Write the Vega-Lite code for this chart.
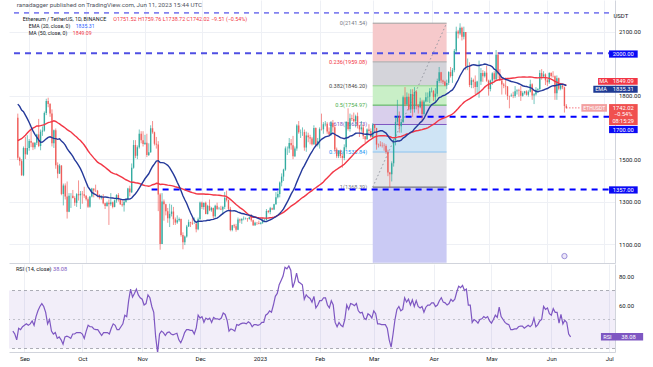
{
"$schema":"https://vega.github.io/schema/vega-lite/v6.json",
"padding":{"left":8,"top":0,"right":0,"bottom":0},
"background":"#ffffff",
"config":{"view":{"stroke":null},"font":"Roboto"},
"datasets":{"px":[
{"d":"2022-07-07","c":1237},{"d":"2022-07-08","c":1216},{"d":"2022-07-09","c":1217},{"d":"2022-07-10","c":1168},{"d":"2022-07-11","c":1097},{"d":"2022-07-12","c":1039},{"d":"2022-07-13","c":1113},{"d":"2022-07-14","c":1192},{"d":"2022-07-15","c":1233},{"d":"2022-07-16","c":1355},{"d":"2022-07-17","c":1339},{"d":"2022-07-18","c":1580},{"d":"2022-07-19","c":1543},{"d":"2022-07-20","c":1523},{"d":"2022-07-21","c":1577},{"d":"2022-07-22","c":1536},{"d":"2022-07-23","c":1552},{"d":"2022-07-24","c":1599},{"d":"2022-07-25","c":1439},{"d":"2022-07-26","c":1450},{"d":"2022-07-27","c":1636},{"d":"2022-07-28","c":1724},{"d":"2022-07-29","c":1739},{"d":"2022-07-30","c":1696},{"d":"2022-07-31","c":1678},{"d":"2022-08-01","c":1633},{"d":"2022-08-02","c":1634},{"d":"2022-08-03","c":1617},{"d":"2022-08-04","c":1608},{"d":"2022-08-05","c":1733},{"d":"2022-08-06","c":1695},{"d":"2022-08-07","c":1704},{"d":"2022-08-08","c":1776},{"d":"2022-08-09","c":1700},{"d":"2022-08-10","c":1852},{"d":"2022-08-11","c":1880},{"d":"2022-08-12","c":1956},{"d":"2022-08-13","c":1983},{"d":"2022-08-14","c":1935},{"d":"2022-08-15","c":1904},{"d":"2022-08-16","c":1877},{"d":"2022-08-17","c":1835},{"d":"2022-08-18","c":1846},{"d":"2022-08-19","c":1615},{"d":"2022-08-20","c":1574},{"d":"2022-08-21","c":1619},{"d":"2022-08-22","c":1625},{"d":"2022-08-23","c":1662},{"d":"2022-08-24","c":1654},{"d":"2022-08-25","c":1696},
{"d":"2022-08-26","o":1696,"h":1715,"l":1496,"c":1507,"r":42},
{"d":"2022-08-27","o":1507,"h":1512,"l":1470,"c":1491,"r":40},
{"d":"2022-08-28","o":1491,"h":1500,"l":1422,"c":1424,"r":36},
{"d":"2022-08-29","o":1424,"h":1560,"l":1420,"c":1553,"r":44},
{"d":"2022-08-30","o":1553,"h":1605,"l":1501,"c":1523,"r":43},
{"d":"2022-08-31","o":1523,"h":1613,"l":1520,"c":1553,"r":45},
{"d":"2022-09-01","o":1553,"h":1595,"l":1540,"c":1586,"r":46},
{"d":"2022-09-02","o":1586,"h":1645,"l":1557,"c":1577,"r":47},
{"d":"2022-09-03","o":1577,"h":1580,"l":1543,"c":1556,"r":46},
{"d":"2022-09-04","o":1556,"h":1580,"l":1547,"c":1577,"r":47},
{"d":"2022-09-05","o":1577,"h":1620,"l":1567,"c":1617,"r":49},
{"d":"2022-09-06","o":1617,"h":1690,"l":1557,"c":1562,"r":46},
{"d":"2022-09-07","o":1562,"h":1640,"l":1542,"c":1630,"r":52},
{"d":"2022-09-08","o":1630,"h":1655,"l":1610,"c":1635,"r":56},
{"d":"2022-09-09","o":1635,"h":1725,"l":1630,"c":1718,"r":59},
{"d":"2022-09-10","o":1718,"h":1785,"l":1708,"c":1775,"r":61},
{"d":"2022-09-11","o":1775,"h":1790,"l":1745,"c":1760,"r":59},
{"d":"2022-09-12","o":1760,"h":1765,"l":1700,"c":1715,"r":55},
{"d":"2022-09-13","o":1715,"h":1735,"l":1560,"c":1575,"r":47},
{"d":"2022-09-14","o":1575,"h":1640,"l":1553,"c":1636,"r":50},
{"d":"2022-09-15","o":1636,"h":1645,"l":1455,"c":1472,"r":42},
{"d":"2022-09-16","o":1472,"h":1485,"l":1410,"c":1432,"r":40},
{"d":"2022-09-17","o":1432,"h":1478,"l":1430,"c":1470,"r":41},
{"d":"2022-09-18","o":1470,"h":1472,"l":1330,"c":1336,"r":37},
{"d":"2022-09-19","o":1336,"h":1385,"l":1282,"c":1376,"r":38},
{"d":"2022-09-20","o":1376,"h":1386,"l":1310,"c":1324,"r":36},
{"d":"2022-09-21","o":1324,"h":1395,"l":1220,"c":1252,"r":33},
{"d":"2022-09-22","o":1252,"h":1340,"l":1250,"c":1328,"r":38},
{"d":"2022-09-23","o":1328,"h":1340,"l":1270,"c":1328,"r":38.5},
{"d":"2022-09-24","o":1328,"h":1355,"l":1315,"c":1317,"r":38},
{"d":"2022-09-25","o":1317,"h":1325,"l":1280,"c":1294,"r":37},
{"d":"2022-09-26","o":1294,"h":1340,"l":1275,"c":1335,"r":40},
{"d":"2022-09-27","o":1335,"h":1400,"l":1305,"c":1330,"r":40},
{"d":"2022-09-28","o":1330,"h":1350,"l":1265,"c":1337,"r":41},
{"d":"2022-09-29","o":1337,"h":1350,"l":1290,"c":1335,"r":41},
{"d":"2022-09-30","o":1335,"h":1370,"l":1318,"c":1328,"r":41},
{"d":"2022-10-01","o":1328,"h":1330,"l":1305,"c":1311,"r":40},
{"d":"2022-10-02","o":1311,"h":1320,"l":1270,"c":1276,"r":37},
{"d":"2022-10-03","o":1276,"h":1327,"l":1271,"c":1324,"r":42},
{"d":"2022-10-04","o":1324,"h":1365,"l":1320,"c":1362,"r":46},
{"d":"2022-10-05","o":1362,"h":1362,"l":1320,"c":1352,"r":45},
{"d":"2022-10-06","o":1352,"h":1380,"l":1345,"c":1351,"r":45},
{"d":"2022-10-07","o":1351,"h":1355,"l":1320,"c":1331,"r":43.5},
{"d":"2022-10-08","o":1331,"h":1335,"l":1310,"c":1317,"r":43},
{"d":"2022-10-09","o":1317,"h":1330,"l":1310,"c":1321,"r":43},
{"d":"2022-10-10","o":1321,"h":1335,"l":1287,"c":1292,"r":41},
{"d":"2022-10-11","o":1292,"h":1295,"l":1265,"c":1279,"r":39},
{"d":"2022-10-12","o":1279,"h":1300,"l":1276,"c":1294,"r":41},
{"d":"2022-10-13","o":1294,"h":1310,"l":1190,"c":1287,"r":41},
{"d":"2022-10-14","o":1287,"h":1340,"l":1280,"c":1297,"r":41},
{"d":"2022-10-15","o":1297,"h":1300,"l":1268,"c":1275,"r":40},
{"d":"2022-10-16","o":1275,"h":1310,"l":1273,"c":1306,"r":44},
{"d":"2022-10-17","o":1306,"h":1335,"l":1295,"c":1331,"r":47},
{"d":"2022-10-18","o":1331,"h":1340,"l":1300,"c":1311,"r":46},
{"d":"2022-10-19","o":1311,"h":1312,"l":1284,"c":1287,"r":43},
{"d":"2022-10-20","o":1287,"h":1310,"l":1276,"c":1283,"r":43},
{"d":"2022-10-21","o":1283,"h":1305,"l":1253,"c":1299,"r":45},
{"d":"2022-10-22","o":1299,"h":1315,"l":1295,"c":1314,"r":47},
{"d":"2022-10-23","o":1314,"h":1365,"l":1305,"c":1362,"r":53},
{"d":"2022-10-24","o":1362,"h":1375,"l":1325,"c":1344,"r":52},
{"d":"2022-10-25","o":1344,"h":1480,"l":1340,"c":1460,"r":63},
{"d":"2022-10-26","o":1460,"h":1590,"l":1455,"c":1567,"r":71},
{"d":"2022-10-27","o":1567,"h":1590,"l":1505,"c":1516,"r":65.5},
{"d":"2022-10-28","o":1516,"h":1565,"l":1500,"c":1556,"r":68},
{"d":"2022-10-29","o":1556,"h":1640,"l":1550,"c":1620,"r":71},
{"d":"2022-10-30","o":1620,"h":1632,"l":1575,"c":1589,"r":67},
{"d":"2022-10-31","o":1589,"h":1632,"l":1560,"c":1572,"r":65},
{"d":"2022-11-01","o":1572,"h":1615,"l":1567,"c":1578,"r":64},
{"d":"2022-11-02","o":1578,"h":1620,"l":1510,"c":1520,"r":60},
{"d":"2022-11-03","o":1520,"h":1575,"l":1515,"c":1533,"r":61},
{"d":"2022-11-04","o":1533,"h":1660,"l":1530,"c":1646,"r":67},
{"d":"2022-11-05","o":1646,"h":1680,"l":1620,"c":1627,"r":65},
{"d":"2022-11-06","o":1627,"h":1630,"l":1565,"c":1573,"r":59},
{"d":"2022-11-07","o":1573,"h":1605,"l":1550,"c":1569,"r":55},
{"d":"2022-11-08","o":1569,"h":1585,"l":1255,"c":1334,"r":38},
{"d":"2022-11-09","o":1334,"h":1340,"l":1073,"c":1100,"r":27},
{"d":"2022-11-10","o":1100,"h":1340,"l":1100,"c":1301,"r":40},
{"d":"2022-11-11","o":1301,"h":1310,"l":1210,"c":1287,"r":42},
{"d":"2022-11-12","o":1287,"h":1290,"l":1235,"c":1255,"r":41},
{"d":"2022-11-13","o":1255,"h":1270,"l":1200,"c":1221,"r":39},
{"d":"2022-11-14","o":1221,"h":1290,"l":1180,"c":1242,"r":41},
{"d":"2022-11-15","o":1242,"h":1285,"l":1230,"c":1253,"r":41.5},
{"d":"2022-11-16","o":1253,"h":1275,"l":1190,"c":1217,"r":40},
{"d":"2022-11-17","o":1217,"h":1225,"l":1190,"c":1201,"r":39.5},
{"d":"2022-11-18","o":1201,"h":1235,"l":1195,"c":1212,"r":40},
{"d":"2022-11-19","o":1212,"h":1225,"l":1205,"c":1218,"r":40.5},
{"d":"2022-11-20","o":1218,"h":1220,"l":1135,"c":1142,"r":36},
{"d":"2022-11-21","o":1142,"h":1155,"l":1075,"c":1108,"r":34},
{"d":"2022-11-22","o":1108,"h":1140,"l":1095,"c":1135,"r":37},
{"d":"2022-11-23","o":1135,"h":1190,"l":1130,"c":1183,"r":41},
{"d":"2022-11-24","o":1183,"h":1215,"l":1180,"c":1203,"r":43},
{"d":"2022-11-25","o":1203,"h":1205,"l":1180,"c":1200,"r":43},
{"d":"2022-11-26","o":1200,"h":1225,"l":1190,"c":1196,"r":42.5},
{"d":"2022-11-27","o":1196,"h":1225,"l":1195,"c":1196,"r":42.5},
{"d":"2022-11-28","o":1196,"h":1200,"l":1155,"c":1170,"r":40},
{"d":"2022-11-29","o":1170,"h":1225,"l":1165,"c":1217,"r":44},
{"d":"2022-11-30","o":1217,"h":1300,"l":1215,"c":1296,"r":53},
{"d":"2022-12-01","o":1296,"h":1300,"l":1265,"c":1275,"r":51},
{"d":"2022-12-02","o":1275,"h":1295,"l":1262,"c":1294,"r":52},
{"d":"2022-12-03","o":1294,"h":1300,"l":1240,"c":1241,"r":48},
{"d":"2022-12-04","o":1241,"h":1285,"l":1240,"c":1280,"r":51},
{"d":"2022-12-05","o":1280,"h":1310,"l":1255,"c":1259,"r":50},
{"d":"2022-12-06","o":1259,"h":1275,"l":1252,"c":1270,"r":51},
{"d":"2022-12-07","o":1270,"h":1272,"l":1220,"c":1231,"r":48},
{"d":"2022-12-08","o":1231,"h":1285,"l":1225,"c":1281,"r":51.5},
{"d":"2022-12-09","o":1281,"h":1295,"l":1260,"c":1265,"r":50.5},
{"d":"2022-12-10","o":1265,"h":1275,"l":1262,"c":1266,"r":50.5},
{"d":"2022-12-11","o":1266,"h":1280,"l":1260,"c":1263,"r":50},
{"d":"2022-12-12","o":1263,"h":1280,"l":1240,"c":1275,"r":51},
{"d":"2022-12-13","o":1275,"h":1345,"l":1265,"c":1318,"r":54.5},
{"d":"2022-12-14","o":1318,"h":1352,"l":1300,"c":1307,"r":53.5},
{"d":"2022-12-15","o":1307,"h":1310,"l":1260,"c":1266,"r":49.5},
{"d":"2022-12-16","o":1266,"h":1275,"l":1160,"c":1166,"r":42},
{"d":"2022-12-17","o":1166,"h":1190,"l":1160,"c":1188,"r":43.5},
{"d":"2022-12-18","o":1188,"h":1195,"l":1175,"c":1184,"r":43},
{"d":"2022-12-19","o":1184,"h":1195,"l":1158,"c":1167,"r":42},
{"d":"2022-12-20","o":1167,"h":1225,"l":1165,"c":1216,"r":46.5},
{"d":"2022-12-21","o":1216,"h":1220,"l":1200,"c":1211,"r":46},
{"d":"2022-12-22","o":1211,"h":1222,"l":1195,"c":1218,"r":47},
{"d":"2022-12-23","o":1218,"h":1230,"l":1212,"c":1219,"r":47.5},
{"d":"2022-12-24","o":1219,"h":1225,"l":1215,"c":1220,"r":47.5},
{"d":"2022-12-25","o":1220,"h":1222,"l":1205,"c":1218,"r":47},
{"d":"2022-12-26","o":1218,"h":1230,"l":1215,"c":1226,"r":48.5},
{"d":"2022-12-27","o":1226,"h":1240,"l":1205,"c":1212,"r":47.5},
{"d":"2022-12-28","o":1212,"h":1215,"l":1185,"c":1189,"r":45},
{"d":"2022-12-29","o":1189,"h":1205,"l":1185,"c":1200,"r":46.5},
{"d":"2022-12-30","o":1200,"h":1202,"l":1190,"c":1199,"r":46.5},
{"d":"2022-12-31","o":1199,"h":1210,"l":1193,"c":1196,"r":46},
{"d":"2023-01-01","o":1196,"h":1203,"l":1192,"c":1200,"r":46.5},
{"d":"2023-01-02","o":1200,"h":1222,"l":1195,"c":1214,"r":48},
{"d":"2023-01-03","o":1214,"h":1220,"l":1207,"c":1214,"r":48},
{"d":"2023-01-04","o":1214,"h":1265,"l":1210,"c":1256,"r":53},
{"d":"2023-01-05","o":1256,"h":1260,"l":1245,"c":1251,"r":54},
{"d":"2023-01-06","o":1251,"h":1275,"l":1240,"c":1269,"r":56},
{"d":"2023-01-07","o":1269,"h":1272,"l":1260,"c":1263,"r":55},
{"d":"2023-01-08","o":1263,"h":1290,"l":1260,"c":1287,"r":60},
{"d":"2023-01-09","o":1287,"h":1345,"l":1285,"c":1321,"r":66},
{"d":"2023-01-10","o":1321,"h":1350,"l":1315,"c":1336,"r":68},
{"d":"2023-01-11","o":1336,"h":1395,"l":1320,"c":1390,"r":74},
{"d":"2023-01-12","o":1390,"h":1433,"l":1372,"c":1418,"r":77},
{"d":"2023-01-13","o":1418,"h":1455,"l":1397,"c":1451,"r":80},
{"d":"2023-01-14","o":1451,"h":1560,"l":1445,"c":1551,"r":86},
{"d":"2023-01-15","o":1551,"h":1560,"l":1520,"c":1551,"r":85},
{"d":"2023-01-16","o":1551,"h":1600,"l":1530,"c":1576,"r":87},
{"d":"2023-01-17","o":1576,"h":1595,"l":1545,"c":1566,"r":84},
{"d":"2023-01-18","o":1566,"h":1610,"l":1500,"c":1514,"r":72},
{"d":"2023-01-19","o":1514,"h":1560,"l":1510,"c":1551,"r":76},
{"d":"2023-01-20","o":1551,"h":1665,"l":1540,"c":1659,"r":82},
{"d":"2023-01-21","o":1659,"h":1680,"l":1620,"c":1627,"r":76},
{"d":"2023-01-22","o":1627,"h":1640,"l":1600,"c":1628,"r":75},
{"d":"2023-01-23","o":1628,"h":1650,"l":1610,"c":1628,"r":74},
{"d":"2023-01-24","o":1628,"h":1640,"l":1540,"c":1555,"r":64},
{"d":"2023-01-25","o":1555,"h":1630,"l":1535,"c":1612,"r":67},
{"d":"2023-01-26","o":1612,"h":1625,"l":1580,"c":1603,"r":65.5},
{"d":"2023-01-27","o":1603,"h":1615,"l":1570,"c":1598,"r":64.5},
{"d":"2023-01-28","o":1598,"h":1605,"l":1565,"c":1570,"r":62},
{"d":"2023-01-29","o":1570,"h":1660,"l":1568,"c":1647,"r":66},
{"d":"2023-01-30","o":1647,"h":1650,"l":1560,"c":1567,"r":58},
{"d":"2023-01-31","o":1567,"h":1600,"l":1560,"c":1585,"r":60},
{"d":"2023-02-01","o":1585,"h":1650,"l":1550,"c":1642,"r":63},
{"d":"2023-02-02","o":1642,"h":1715,"l":1635,"c":1641,"r":63},
{"d":"2023-02-03","o":1641,"h":1675,"l":1620,"c":1665,"r":65},
{"d":"2023-02-04","o":1665,"h":1680,"l":1655,"c":1667,"r":65},
{"d":"2023-02-05","o":1667,"h":1675,"l":1620,"c":1631,"r":60},
{"d":"2023-02-06","o":1631,"h":1650,"l":1610,"c":1616,"r":58},
{"d":"2023-02-07","o":1616,"h":1680,"l":1610,"c":1672,"r":63},
{"d":"2023-02-08","o":1672,"h":1685,"l":1630,"c":1651,"r":60},
{"d":"2023-02-09","o":1651,"h":1660,"l":1535,"c":1546,"r":48},
{"d":"2023-02-10","o":1546,"h":1555,"l":1505,"c":1514,"r":45},
{"d":"2023-02-11","o":1514,"h":1540,"l":1505,"c":1540,"r":48},
{"d":"2023-02-12","o":1540,"h":1545,"l":1505,"c":1515,"r":46},
{"d":"2023-02-13","o":1515,"h":1525,"l":1460,"c":1506,"r":45},
{"d":"2023-02-14","o":1506,"h":1570,"l":1495,"c":1556,"r":50},
{"d":"2023-02-15","o":1556,"h":1680,"l":1545,"c":1675,"r":60},
{"d":"2023-02-16","o":1675,"h":1740,"l":1635,"c":1642,"r":57},
{"d":"2023-02-17","o":1642,"h":1715,"l":1630,"c":1693,"r":61},
{"d":"2023-02-18","o":1693,"h":1710,"l":1680,"c":1690,"r":60.5},
{"d":"2023-02-19","o":1690,"h":1720,"l":1675,"c":1679,"r":59.5},
{"d":"2023-02-20","o":1679,"h":1710,"l":1650,"c":1703,"r":61},
{"d":"2023-02-21","o":1703,"h":1720,"l":1645,"c":1659,"r":56},
{"d":"2023-02-22","o":1659,"h":1662,"l":1605,"c":1641,"r":54.5},
{"d":"2023-02-23","o":1641,"h":1680,"l":1630,"c":1650,"r":55},
{"d":"2023-02-24","o":1650,"h":1665,"l":1595,"c":1608,"r":51},
{"d":"2023-02-25","o":1608,"h":1610,"l":1575,"c":1594,"r":50},
{"d":"2023-02-26","o":1594,"h":1645,"l":1592,"c":1640,"r":54},
{"d":"2023-02-27","o":1640,"h":1665,"l":1615,"c":1633,"r":53},
{"d":"2023-02-28","o":1633,"h":1645,"l":1600,"c":1605,"r":51},
{"d":"2023-03-01","o":1605,"h":1670,"l":1600,"c":1663,"r":56},
{"d":"2023-03-02","o":1663,"h":1665,"l":1625,"c":1647,"r":54},
{"d":"2023-03-03","o":1647,"h":1648,"l":1545,"c":1569,"r":47},
{"d":"2023-03-04","o":1569,"h":1574,"l":1555,"c":1568,"r":47},
{"d":"2023-03-05","o":1568,"h":1585,"l":1560,"c":1565,"r":46.5},
{"d":"2023-03-06","o":1565,"h":1580,"l":1555,"c":1563,"r":46.5},
{"d":"2023-03-07","o":1563,"h":1575,"l":1540,"c":1562,"r":46.5},
{"d":"2023-03-08","o":1562,"h":1570,"l":1525,"c":1534,"r":44},
{"d":"2023-03-09","o":1534,"h":1545,"l":1420,"c":1437,"r":36},
{"d":"2023-03-10","o":1437,"h":1440,"l":1368,"c":1429,"r":31},
{"d":"2023-03-11","o":1429,"h":1490,"l":1395,"c":1481,"r":40},
{"d":"2023-03-12","o":1481,"h":1595,"l":1465,"c":1590,"r":50},
{"d":"2023-03-13","o":1590,"h":1700,"l":1565,"c":1676,"r":57},
{"d":"2023-03-14","o":1676,"h":1780,"l":1660,"c":1703,"r":59},
{"d":"2023-03-15","o":1703,"h":1725,"l":1625,"c":1655,"r":56},
{"d":"2023-03-16","o":1655,"h":1690,"l":1625,"c":1676,"r":57},
{"d":"2023-03-17","o":1676,"h":1800,"l":1670,"c":1792,"r":65},
{"d":"2023-03-18","o":1792,"h":1840,"l":1750,"c":1759,"r":62},
{"d":"2023-03-19","o":1759,"h":1815,"l":1755,"c":1794,"r":64},
{"d":"2023-03-20","o":1794,"h":1810,"l":1730,"c":1734,"r":60},
{"d":"2023-03-21","o":1734,"h":1830,"l":1718,"c":1807,"r":63.5},
{"d":"2023-03-22","o":1807,"h":1830,"l":1700,"c":1736,"r":59},
{"d":"2023-03-23","o":1736,"h":1840,"l":1720,"c":1817,"r":63},
{"d":"2023-03-24","o":1817,"h":1825,"l":1735,"c":1752,"r":59},
{"d":"2023-03-25","o":1752,"h":1760,"l":1715,"c":1745,"r":58},
{"d":"2023-03-26","o":1745,"h":1790,"l":1740,"c":1772,"r":59},
{"d":"2023-03-27","o":1772,"h":1780,"l":1680,"c":1713,"r":55},
{"d":"2023-03-28","o":1713,"h":1780,"l":1705,"c":1772,"r":58.5},
{"d":"2023-03-29","o":1772,"h":1815,"l":1768,"c":1792,"r":60},
{"d":"2023-03-30","o":1792,"h":1815,"l":1770,"c":1794,"r":60},
{"d":"2023-03-31","o":1794,"h":1835,"l":1765,"c":1821,"r":61.5},
{"d":"2023-04-01","o":1821,"h":1838,"l":1815,"c":1822,"r":61.5},
{"d":"2023-04-02","o":1822,"h":1826,"l":1775,"c":1793,"r":59},
{"d":"2023-04-03","o":1793,"h":1835,"l":1765,"c":1809,"r":60},
{"d":"2023-04-04","o":1809,"h":1880,"l":1795,"c":1869,"r":63},
{"d":"2023-04-05","o":1869,"h":1935,"l":1860,"c":1910,"r":65},
{"d":"2023-04-06","o":1910,"h":1912,"l":1860,"c":1871,"r":62},
{"d":"2023-04-07","o":1871,"h":1875,"l":1855,"c":1865,"r":61.5},
{"d":"2023-04-08","o":1865,"h":1870,"l":1845,"c":1848,"r":60},
{"d":"2023-04-09","o":1848,"h":1875,"l":1830,"c":1860,"r":61},
{"d":"2023-04-10","o":1860,"h":1915,"l":1850,"c":1911,"r":64},
{"d":"2023-04-11","o":1911,"h":1935,"l":1885,"c":1892,"r":62.5},
{"d":"2023-04-12","o":1892,"h":1930,"l":1860,"c":1920,"r":64},
{"d":"2023-04-13","o":1920,"h":2020,"l":1910,"c":2011,"r":69},
{"d":"2023-04-14","o":2011,"h":2125,"l":2000,"c":2102,"r":73},
{"d":"2023-04-15","o":2102,"h":2110,"l":2070,"c":2093,"r":72},
{"d":"2023-04-16","o":2093,"h":2141,"l":2085,"c":2120,"r":73.5},
{"d":"2023-04-17","o":2120,"h":2125,"l":2060,"c":2077,"r":70},
{"d":"2023-04-18","o":2077,"h":2125,"l":2065,"c":2100,"r":71},
{"d":"2023-04-19","o":2100,"h":2100,"l":1920,"c":1939,"r":60},
{"d":"2023-04-20","o":1939,"h":1975,"l":1920,"c":1940,"r":60},
{"d":"2023-04-21","o":1940,"h":1957,"l":1840,"c":1850,"r":48},
{"d":"2023-04-22","o":1850,"h":1885,"l":1835,"c":1873,"r":50},
{"d":"2023-04-23","o":1873,"h":1880,"l":1835,"c":1865,"r":49},
{"d":"2023-04-24","o":1865,"h":1895,"l":1800,"c":1841,"r":47.5},
{"d":"2023-04-25","o":1841,"h":1870,"l":1810,"c":1866,"r":50},
{"d":"2023-04-26","o":1866,"h":1965,"l":1790,"c":1866,"r":50.5},
{"d":"2023-04-27","o":1866,"h":1930,"l":1850,"c":1907,"r":52},
{"d":"2023-04-28","o":1907,"h":1920,"l":1865,"c":1891,"r":51},
{"d":"2023-04-29","o":1891,"h":1915,"l":1885,"c":1908,"r":52},
{"d":"2023-04-30","o":1908,"h":1940,"l":1865,"c":1870,"r":49},
{"d":"2023-05-01","o":1870,"h":1875,"l":1800,"c":1831,"r":47.5},
{"d":"2023-05-02","o":1831,"h":1875,"l":1820,"c":1871,"r":50},
{"d":"2023-05-03","o":1871,"h":1910,"l":1850,"c":1905,"r":53},
{"d":"2023-05-04","o":1905,"h":1915,"l":1865,"c":1877,"r":51.5},
{"d":"2023-05-05","o":1877,"h":2015,"l":1870,"c":1993,"r":58.5},
{"d":"2023-05-06","o":1993,"h":2005,"l":1880,"c":1901,"r":52},
{"d":"2023-05-07","o":1901,"h":1925,"l":1870,"c":1871,"r":50},
{"d":"2023-05-08","o":1871,"h":1880,"l":1805,"c":1852,"r":48},
{"d":"2023-05-09","o":1852,"h":1860,"l":1835,"c":1846,"r":47},
{"d":"2023-05-10","o":1846,"h":1885,"l":1805,"c":1843,"r":46.5},
{"d":"2023-05-11","o":1843,"h":1845,"l":1780,"c":1798,"r":43},
{"d":"2023-05-12","o":1798,"h":1800,"l":1740,"c":1797,"r":43},
{"d":"2023-05-13","o":1797,"h":1810,"l":1795,"c":1800,"r":43.5},
{"d":"2023-05-14","o":1800,"h":1818,"l":1788,"c":1798,"r":43.5},
{"d":"2023-05-15","o":1798,"h":1845,"l":1790,"c":1820,"r":45},
{"d":"2023-05-16","o":1820,"h":1830,"l":1805,"c":1824,"r":45.5},
{"d":"2023-05-17","o":1824,"h":1832,"l":1795,"c":1822,"r":45.5},
{"d":"2023-05-18","o":1822,"h":1845,"l":1775,"c":1799,"r":44},
{"d":"2023-05-19","o":1799,"h":1820,"l":1795,"c":1812,"r":45},
{"d":"2023-05-20","o":1812,"h":1822,"l":1805,"c":1820,"r":46},
{"d":"2023-05-21","o":1820,"h":1825,"l":1800,"c":1804,"r":45},
{"d":"2023-05-22","o":1804,"h":1825,"l":1795,"c":1818,"r":46.5},
{"d":"2023-05-23","o":1818,"h":1875,"l":1815,"c":1854,"r":51},
{"d":"2023-05-24","o":1854,"h":1858,"l":1780,"c":1800,"r":45},
{"d":"2023-05-25","o":1800,"h":1812,"l":1760,"c":1806,"r":46.5},
{"d":"2023-05-26","o":1806,"h":1840,"l":1800,"c":1828,"r":49},
{"d":"2023-05-27","o":1828,"h":1835,"l":1815,"c":1831,"r":50},
{"d":"2023-05-28","o":1831,"h":1920,"l":1825,"c":1907,"r":59},
{"d":"2023-05-29","o":1907,"h":1925,"l":1875,"c":1890,"r":57},
{"d":"2023-05-30","o":1890,"h":1915,"l":1885,"c":1900,"r":58},
{"d":"2023-05-31","o":1900,"h":1905,"l":1850,"c":1872,"r":54},
{"d":"2023-06-01","o":1872,"h":1880,"l":1845,"c":1863,"r":53},
{"d":"2023-06-02","o":1863,"h":1910,"l":1855,"c":1906,"r":57.5},
{"d":"2023-06-03","o":1906,"h":1910,"l":1885,"c":1893,"r":55},
{"d":"2023-06-04","o":1893,"h":1915,"l":1885,"c":1891,"r":55},
{"d":"2023-06-05","o":1891,"h":1895,"l":1780,"c":1811,"r":47.5},
{"d":"2023-06-06","o":1811,"h":1895,"l":1780,"c":1882,"r":53.5},
{"d":"2023-06-07","o":1882,"h":1885,"l":1825,"c":1832,"r":47},
{"d":"2023-06-08","o":1832,"h":1860,"l":1825,"c":1848,"r":49.5},
{"d":"2023-06-09","o":1848,"h":1855,"l":1830,"c":1839,"r":48},
{"d":"2023-06-10","o":1839,"h":1842,"l":1720,"c":1751,"r":40},
{"d":"2023-06-11","o":1751.52,"h":1759.76,"l":1738.72,"c":1742.02,"r":38.08}
],
"fib":[
{"lv":"0","p":2141.54,"t":"0(2141.54)"},
{"lv":"0.236","p":1959.08,"t":"0.236(1959.08)"},
{"lv":"0.382","p":1846.2,"t":"0.382(1846.20)"},
{"lv":"0.5","p":1754.97,"t":"0.5(1754.97)"},
{"lv":"0.618","p":1663.73,"t":"0.618(1663.73)"},
{"lv":"0.786","p":1533.84,"t":"0.786(1533.84)"},
{"lv":"1","p":1368.39,"t":"1(1368.39)"}
]
},
"spacing":1,
"vconcat":[
{
"width":606,"height":263,
"data":{"name":"px"},
"resolve":{"scale":{"color":"independent","fill":"independent","stroke":"independent"}},
"layer":[
{"data":{"values":[{"b":"b1","y1":2141.54,"y2":1959.08},{"b":"b2","y1":1959.08,"y2":1846.2},{"b":"b3","y1":1846.2,"y2":1754.97},{"b":"b4","y1":1754.97,"y2":1663.73},{"b":"b5","y1":1663.73,"y2":1533.84},{"b":"b6","y1":1533.84,"y2":1368.39},{"b":"b7","y1":1368.39,"y2":1011}]},
 "mark":{"type":"rect","clip":true},
 "encoding":{"x":{"datum":{"year":2023,"month":3,"date":1,"utc":true},"type":"temporal"},
  "x2":{"datum":{"year":2023,"month":4,"date":8,"hours":22,"utc":true}},
  "y":{"field":"y1","type":"quantitative","title":null},"y2":{"field":"y2"},
  "fill":{"field":"b","type":"nominal","legend":null,"scale":{"domain":["b1","b2","b3","b4","b5","b6","b7"],"range":["#f6c9cb","#d4d4da","#c9efc7","#d9cfec","#cfe4f5","#e5e5e8","#cacaf4"]}}}},
{"data":{"name":"fib"},
 "mark":{"type":"rule","strokeWidth":1},
 "encoding":{"x":{"datum":{"year":2023,"month":3,"date":1,"utc":true},"type":"temporal"},
  "x2":{"datum":{"year":2023,"month":4,"date":8,"hours":22,"utc":true}},
  "y":{"field":"p","type":"quantitative","title":null},
  "stroke":{"field":"lv","type":"nominal","legend":null,"scale":{"domain":["0","0.236","0.382","0.5","0.618","0.786","1"],"range":["#9e9e9e","#a8a8a8","#8fd18c","#4caf50","#7e57c2","#8cc4ef","#616161"]}}}},
{"data":{"values":[{"d":"2023-03-01T00:00:00Z","p":1368.39},{"d":"2023-04-08T22:00:00Z","p":2141.54}]},
 "mark":{"type":"line","color":"#9598a1","strokeWidth":1,"strokeDash":[1.5,2.5]},
 "encoding":{"x":{"field":"d","type":"temporal","title":null},"y":{"field":"p","type":"quantitative","title":null}}},
{"data":{"name":"fib"},
 "mark":{"type":"text","align":"right","baseline":"middle","fontSize":5.6},
 "encoding":{"x":{"datum":{"year":2023,"month":2,"date":26,"hours":2,"utc":true},"type":"temporal"},
  "y":{"field":"p","type":"quantitative","title":null},
  "text":{"field":"t"},
  "color":{"field":"lv","type":"nominal","legend":null,"scale":{"domain":["0","0.236","0.382","0.5","0.618","0.786","1"],"range":["#787b86","#f23645","#4a4a4a","#4caf50","#7e57c2","#2196f3","#787b86"]}}}},
{"data":{"values":[{}]},
 "mark":{"type":"rule","color":"#8383f0","strokeWidth":1.6,"strokeDash":[5,5]},
 "encoding":{"x":{"datum":{"year":2022,"month":8,"date":24,"utc":true},"type":"temporal"},"x2":{"datum":{"year":2023,"month":7,"date":4,"utc":true}},"y":{"datum":2190}}},
{"data":{"values":[{}]},
 "mark":{"type":"rule","color":"#4f4fe3","strokeWidth":2,"strokeDash":[6,5]},
 "encoding":{"x":{"datum":{"year":2022,"month":8,"date":24,"utc":true},"type":"temporal"},"x2":{"datum":{"year":2023,"month":7,"date":3,"hours":12,"utc":true}},"y":{"datum":2000}}},
{"data":{"values":[{}]},
 "mark":{"type":"rule","color":"#0000ff","strokeWidth":2,"strokeDash":[6,5]},
 "encoding":{"x":{"datum":{"year":2023,"month":3,"date":12,"hours":12,"utc":true},"type":"temporal"},"x2":{"datum":{"year":2023,"month":7,"date":3,"hours":12,"utc":true}},"y":{"datum":1700}}},
{"data":{"values":[{}]},
 "mark":{"type":"rule","color":"#0000ff","strokeWidth":2,"strokeDash":[6,5]},
 "encoding":{"x":{"datum":{"year":2022,"month":11,"date":4,"hours":12,"utc":true},"type":"temporal"},"x2":{"datum":{"year":2023,"month":7,"date":3,"hours":12,"utc":true}},"y":{"datum":1357}}},
{"transform":[{"filter":"isValid(datum.o)"}],
 "mark":{"type":"rule","strokeWidth":0.8,"opacity":0.8,"clip":true},
 "encoding":{
  "x":{"field":"d","type":"temporal","title":null,
   "scale":{"type":"utc","domain":[{"year":2022,"month":8,"date":24,"utc":true},{"year":2023,"month":7,"date":4,"utc":true}]},
   "axis":{"orient":"bottom","labels":false,"ticks":false,"domain":true,"domainColor":"#d1d4dc","grid":true,"gridColor":"#eef0f5","title":null,
    "values":[{"year":2022,"month":9,"date":1,"utc":true},{"year":2022,"month":10,"date":1,"utc":true},{"year":2022,"month":11,"date":1,"utc":true},{"year":2022,"month":12,"date":1,"utc":true},{"year":2023,"month":1,"date":1,"utc":true},{"year":2023,"month":2,"date":1,"utc":true},{"year":2023,"month":3,"date":1,"utc":true},{"year":2023,"month":4,"date":1,"utc":true},{"year":2023,"month":5,"date":1,"utc":true},{"year":2023,"month":6,"date":1,"utc":true},{"year":2023,"month":7,"date":1,"utc":true}]}},
  "y":{"field":"l","type":"quantitative","title":null,
   "scale":{"domain":[1010.4,2250.9],"zero":false,"nice":false},
   "axis":{"orient":"right","values":[1100,1200,1300,1400,1500,1600,1800,1900,2100],"format":".2f","title":null,"grid":true,"gridColor":"#eef0f5","ticks":false,"domain":true,"domainColor":"#d1d4dc","labelFontSize":6,"labelColor":"#131722","labelPadding":3.5}},
  "y2":{"field":"h"},
  "color":{"condition":{"test":"datum.c >= datum.o","value":"#26a69a"},"value":"#ef5350"}}},
{"transform":[{"filter":"isValid(datum.o)"}],
 "mark":{"type":"bar","width":1.4,"opacity":0.85,"clip":true},
 "encoding":{"x":{"field":"d","type":"temporal","title":null},"y":{"field":"o","type":"quantitative","title":null},"y2":{"field":"c"},
  "color":{"condition":{"test":"datum.c >= datum.o","value":"#26a69a"},"value":"#ef5350"}}},
{"transform":[{"window":[{"op":"mean","field":"c","as":"ma"}],"frame":[-49,0],"sort":[{"field":"d"}]},{"filter":"time(datum.d) >= utc(2022,7,26)"}],
 "mark":{"type":"line","color":"#f23645","strokeWidth":1.4,"clip":true},
 "encoding":{"x":{"field":"d","type":"temporal","title":null},"y":{"field":"ma","type":"quantitative","title":null}}},
{"transform":[{"window":[{"op":"mean","field":"c","as":"ema"}],"frame":[-19,0],"sort":[{"field":"d"}]},{"filter":"time(datum.d) >= utc(2022,7,26)"}],
 "mark":{"type":"line","color":"#24399a","strokeWidth":1.4,"clip":true},
 "encoding":{"x":{"field":"d","type":"temporal","title":null},"y":{"field":"ema","type":"quantitative","title":null}}},
{"data":{"values":[{}]},
 "mark":{"type":"rule","color":"#f23645","strokeWidth":1,"strokeDash":[1,2]},
 "encoding":{"x":{"datum":{"year":2023,"month":6,"date":11,"utc":true},"type":"temporal"},"x2":{"datum":{"year":2023,"month":6,"date":18,"hours":22,"utc":true}},"y":{"datum":1742.02}}},
{"data":{"values":[{}]},
 "mark":{"type":"point","shape":"circle","size":28,"filled":true,"color":"#e6dcf7","stroke":"#6f5fc8","strokeWidth":1},
 "encoding":{"x":{"datum":{"year":2023,"month":6,"date":10,"utc":true},"type":"temporal"},"y":{"datum":1043}}},
{"data":{"values":[{}]},
 "mark":{"type":"rect","color":"#0a0af5"},
 "encoding":{"x":{"datum":{"year":2023,"month":7,"date":3,"hours":12,"utc":true},"type":"temporal"},"x2":{"datum":{"year":2023,"month":7,"date":18,"hours":14,"utc":true}},"y":{"datum":1979},"y2":{"datum":2013}}},
{"data":{"values":[{}]},
 "mark":{"type":"text","color":"#ffffff","fontSize":5.8,"align":"center","baseline":"middle","text":"2000.00"},
 "encoding":{"x":{"datum":{"year":2023,"month":7,"date":10,"hours":23,"utc":true},"type":"temporal"},"y":{"datum":1996}}},
{"data":{"values":[{}]},
 "mark":{"type":"rect","color":"#f23645"},
 "encoding":{"x":{"datum":{"year":2023,"month":6,"date":27,"hours":17,"utc":true},"type":"temporal"},"x2":{"datum":{"year":2023,"month":7,"date":18,"hours":14,"utc":true}},"y":{"datum":1851},"y2":{"datum":1883}}},
{"data":{"values":[{}]},
 "mark":{"type":"text","color":"#ffffff","fontSize":5.6,"align":"center","baseline":"middle","text":"MA"},
 "encoding":{"x":{"datum":{"year":2023,"month":6,"date":30,"hours":14,"utc":true},"type":"temporal"},"y":{"datum":1867}}},
{"data":{"values":[{}]},
 "mark":{"type":"text","color":"#ffffff","fontSize":5.8,"align":"center","baseline":"middle","text":"1849.09"},
 "encoding":{"x":{"datum":{"year":2023,"month":7,"date":10,"hours":23,"utc":true},"type":"temporal"},"y":{"datum":1867}}},
{"data":{"values":[{}]},
 "mark":{"type":"rect","color":"#1f3a93"},
 "encoding":{"x":{"datum":{"year":2023,"month":6,"date":25,"hours":5,"utc":true},"type":"temporal"},"x2":{"datum":{"year":2023,"month":7,"date":18,"hours":14,"utc":true}},"y":{"datum":1814},"y2":{"datum":1846}}},
{"data":{"values":[{}]},
 "mark":{"type":"text","color":"#ffffff","fontSize":5.6,"align":"center","baseline":"middle","text":"EMA"},
 "encoding":{"x":{"datum":{"year":2023,"month":6,"date":29,"hours":7,"utc":true},"type":"temporal"},"y":{"datum":1830}}},
{"data":{"values":[{}]},
 "mark":{"type":"text","color":"#ffffff","fontSize":5.8,"align":"center","baseline":"middle","text":"1835.31"},
 "encoding":{"x":{"datum":{"year":2023,"month":7,"date":10,"hours":23,"utc":true},"type":"temporal"},"y":{"datum":1830}}},
{"data":{"values":[{}]},
 "mark":{"type":"rect","color":"#f3a0a0"},
 "encoding":{"x":{"datum":{"year":2023,"month":6,"date":18,"hours":22,"utc":true},"type":"temporal"},"x2":{"datum":{"year":2023,"month":7,"date":2,"hours":10,"utc":true}},"y":{"datum":1724},"y2":{"datum":1760}}},
{"data":{"values":[{}]},
 "mark":{"type":"text","color":"#ffffff","fontSize":5,"align":"center","baseline":"middle","text":"ETHUSDT"},
 "encoding":{"x":{"datum":{"year":2023,"month":6,"date":25,"hours":17,"utc":true},"type":"temporal"},"y":{"datum":1742}}},
{"data":{"values":[{}]},
 "mark":{"type":"rect","color":"#f0504f"},
 "encoding":{"x":{"datum":{"year":2023,"month":7,"date":3,"hours":12,"utc":true},"type":"temporal"},"x2":{"datum":{"year":2023,"month":7,"date":18,"hours":14,"utc":true}},"y":{"datum":1661},"y2":{"datum":1760}}},
{"data":{"values":[{}]},
 "mark":{"type":"text","color":"#ffffff","fontSize":5.8,"align":"center","baseline":"middle","text":"1742.02"},
 "encoding":{"x":{"datum":{"year":2023,"month":7,"date":10,"hours":23,"utc":true},"type":"temporal"},"y":{"datum":1742}}},
{"data":{"values":[{}]},
 "mark":{"type":"text","color":"#ffffff","fontSize":5.6,"align":"center","baseline":"middle","text":"−0.54%"},
 "encoding":{"x":{"datum":{"year":2023,"month":7,"date":10,"hours":23,"utc":true},"type":"temporal"},"y":{"datum":1711}}},
{"data":{"values":[{}]},
 "mark":{"type":"text","color":"#ffffff","fontSize":5.6,"align":"center","baseline":"middle","text":"08:15:29"},
 "encoding":{"x":{"datum":{"year":2023,"month":7,"date":10,"hours":23,"utc":true},"type":"temporal"},"y":{"datum":1680}}},
{"data":{"values":[{}]},
 "mark":{"type":"rect","color":"#0a0af5"},
 "encoding":{"x":{"datum":{"year":2023,"month":7,"date":3,"hours":12,"utc":true},"type":"temporal"},"x2":{"datum":{"year":2023,"month":7,"date":18,"hours":14,"utc":true}},"y":{"datum":1623},"y2":{"datum":1657}}},
{"data":{"values":[{}]},
 "mark":{"type":"text","color":"#ffffff","fontSize":5.8,"align":"center","baseline":"middle","text":"1700.00"},
 "encoding":{"x":{"datum":{"year":2023,"month":7,"date":10,"hours":23,"utc":true},"type":"temporal"},"y":{"datum":1640}}},
{"data":{"values":[{}]},
 "mark":{"type":"rect","color":"#0a0af5"},
 "encoding":{"x":{"datum":{"year":2023,"month":7,"date":3,"hours":12,"utc":true},"type":"temporal"},"x2":{"datum":{"year":2023,"month":7,"date":18,"hours":14,"utc":true}},"y":{"datum":1338},"y2":{"datum":1372}}},
{"data":{"values":[{}]},
 "mark":{"type":"text","color":"#ffffff","fontSize":5.8,"align":"center","baseline":"middle","text":"1357.00"},
 "encoding":{"x":{"datum":{"year":2023,"month":7,"date":10,"hours":23,"utc":true},"type":"temporal"},"y":{"datum":1355}}},
{"data":{"values":[{}]},
 "mark":{"type":"text","color":"#131722","fontSize":6,"align":"left","baseline":"middle","text":"USDT"},
 "encoding":{"x":{"datum":{"year":2023,"month":7,"date":5,"hours":19,"utc":true},"type":"temporal"},"y":{"datum":2175}}},
{"data":{"values":[{}]},
 "mark":{"type":"text","color":"#50535e","fontSize":6.2,"align":"left","baseline":"middle","text":"ranadagger published on TradingView.com, Jun 11, 2023 15:44 UTC"},
 "encoding":{"x":{"datum":{"year":2022,"month":8,"date":25,"hours":12,"utc":true},"type":"temporal"},"y":{"datum":2227}}},
{"data":{"values":[{}]},
 "mark":{"type":"text","color":"#131722","fontSize":5.4,"align":"left","baseline":"middle","text":"Ethereum / TetherUS, 1D, BINANCE"},
 "encoding":{"x":{"datum":{"year":2022,"month":8,"date":28,"hours":15,"utc":true},"type":"temporal"},"y":{"datum":2161}}},
{"data":{"values":[{}]},
 "mark":{"type":"text","color":"#f23645","fontSize":5.4,"align":"left","baseline":"middle","text":"O1751.52  H1759.76  L1738.72  C1742.02  −9.51 (−0.54%)"},
 "encoding":{"x":{"datum":{"year":2022,"month":10,"date":15,"hours":7,"utc":true},"type":"temporal"},"y":{"datum":2161}}},
{"data":{"values":[{}]},
 "mark":{"type":"text","color":"#131722","fontSize":5.2,"align":"left","baseline":"middle","text":"EMA (20, close, 0)"},
 "encoding":{"x":{"datum":{"year":2022,"month":8,"date":31,"hours":18,"utc":true},"type":"temporal"},"y":{"datum":2128}}},
{"data":{"values":[{}]},
 "mark":{"type":"text","color":"#2962ff","fontSize":5.2,"align":"left","baseline":"middle","text":"1835.31"},
 "encoding":{"x":{"datum":{"year":2022,"month":9,"date":25,"hours":12,"utc":true},"type":"temporal"},"y":{"datum":2128}}},
{"data":{"values":[{}]},
 "mark":{"type":"text","color":"#131722","fontSize":5.2,"align":"left","baseline":"middle","text":"MA (50, close, 0)"},
 "encoding":{"x":{"datum":{"year":2022,"month":8,"date":31,"hours":18,"utc":true},"type":"temporal"},"y":{"datum":2094}}},
{"data":{"values":[{}]},
 "mark":{"type":"text","color":"#f23645","fontSize":5.2,"align":"left","baseline":"middle","text":"1849.09"},
 "encoding":{"x":{"datum":{"year":2022,"month":9,"date":24,"hours":0,"utc":true},"type":"temporal"},"y":{"datum":2094}}}
]
},
{
"width":606,"height":88,
"data":{"name":"px"},
"layer":[
{"data":{"values":[{}]},
 "mark":{"type":"rect","color":"#7e57c2","opacity":0.1},
 "encoding":{"x":{"datum":{"year":2022,"month":8,"date":24,"utc":true},"type":"temporal"},"x2":{"datum":{"year":2023,"month":7,"date":4,"utc":true}},"y":{"datum":30},"y2":{"datum":70}}},
{"data":{"values":[{"v":70},{"v":30}]},
 "mark":{"type":"rule","color":"#9598a1","strokeWidth":0.8,"strokeDash":[3,3]},
 "encoding":{"y":{"field":"v","type":"quantitative","title":null}}},
{"data":{"values":[{"v":50}]},
 "mark":{"type":"rule","color":"#b2b5be","strokeWidth":0.8,"strokeDash":[2,3]},
 "encoding":{"y":{"field":"v","type":"quantitative","title":null}}},
{"transform":[{"filter":"isValid(datum.r)"}],
 "mark":{"type":"line","color":"#7e57c2","strokeWidth":1.2,"clip":true},
 "encoding":{
  "x":{"field":"d","type":"temporal","title":null,
   "scale":{"type":"utc","domain":[{"year":2022,"month":8,"date":24,"utc":true},{"year":2023,"month":7,"date":4,"utc":true}]},
   "axis":{"orient":"bottom","ticks":false,"domain":true,"domainColor":"#d1d4dc","grid":true,"gridColor":"#eef0f5","title":null,"labelFontSize":6,"labelColor":"#131722","labelPadding":3,
    "values":[{"year":2022,"month":9,"date":1,"utc":true},{"year":2022,"month":10,"date":1,"utc":true},{"year":2022,"month":11,"date":1,"utc":true},{"year":2022,"month":12,"date":1,"utc":true},{"year":2023,"month":1,"date":1,"utc":true},{"year":2023,"month":2,"date":1,"utc":true},{"year":2023,"month":3,"date":1,"utc":true},{"year":2023,"month":4,"date":1,"utc":true},{"year":2023,"month":5,"date":1,"utc":true},{"year":2023,"month":6,"date":1,"utc":true},{"year":2023,"month":7,"date":1,"utc":true}],
    "labelExpr":"utcFormat(datum.value, '%m') == '01' ? utcFormat(datum.value, '%Y') : utcFormat(datum.value, '%b')"}},
  "y":{"field":"r","type":"quantitative","title":null,
   "scale":{"domain":[27.6,88.3],"zero":false,"nice":false},
   "axis":{"orient":"right","values":[60,80],"format":".2f","title":null,"grid":false,"ticks":false,"domain":true,"domainColor":"#d1d4dc","labelFontSize":6,"labelColor":"#131722","labelPadding":3.5}}}},
{"data":{"values":[{}]},
 "mark":{"type":"text","color":"#131722","fontSize":5.6,"align":"left","baseline":"middle","text":"RSI (14, close)"},
 "encoding":{"x":{"datum":{"year":2022,"month":8,"date":27,"hours":14,"utc":true},"type":"temporal"},"y":{"datum":84.8}}},
{"data":{"values":[{}]},
 "mark":{"type":"text","color":"#7e57c2","fontSize":5.6,"align":"left","baseline":"middle","text":"38.08"},
 "encoding":{"x":{"datum":{"year":2022,"month":9,"date":15,"hours":19,"utc":true},"type":"temporal"},"y":{"datum":84.8}}},
{"data":{"values":[{}]},
 "mark":{"type":"rect","color":"#7e57c2"},
 "encoding":{"x":{"datum":{"year":2023,"month":6,"date":26,"hours":17,"utc":true},"type":"temporal"},"x2":{"datum":{"year":2023,"month":7,"date":18,"hours":14,"utc":true}},"y":{"datum":35.5},"y2":{"datum":40.7}}},
{"data":{"values":[{}]},
 "mark":{"type":"text","color":"#ffffff","fontSize":5.6,"align":"center","baseline":"middle","text":"RSI"},
 "encoding":{"x":{"datum":{"year":2023,"month":6,"date":30,"hours":2,"utc":true},"type":"temporal"},"y":{"datum":38.08}}},
{"data":{"values":[{}]},
 "mark":{"type":"text","color":"#ffffff","fontSize":5.8,"align":"center","baseline":"middle","text":"38.08"},
 "encoding":{"x":{"datum":{"year":2023,"month":7,"date":10,"hours":23,"utc":true},"type":"temporal"},"y":{"datum":38.08}}}
]
}
]
}
